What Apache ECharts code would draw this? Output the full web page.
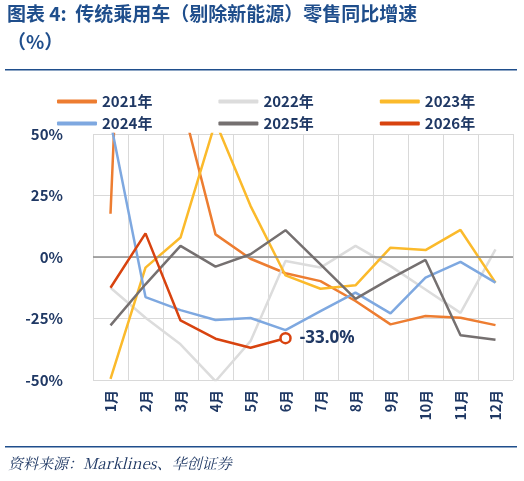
<!DOCTYPE html>
<html>
<head>
<meta charset="UTF-8" />
<title>传统乘用车零售同比增速</title>
<style>
  body { margin: 0; background: #fff; }
  #chart { width: 524px; height: 481px; }
</style>
<script src="https://cdn.jsdelivr.net/npm/echarts@6/dist/echarts.min.js"></script>
</head>
<body>
<div id="chart"></div>
<script>
  var months = ["1月", "2月", "3月", "4月", "5月", "6月", "7月", "8月", "9月", "10月", "11月", "12月"];
  var years = ["2021年", "2022年", "2023年", "2024年", "2025年", "2026年"];
  var colors = ["#ED7D31", "#DCDCDC", "#FBBA2B", "#7EA8E0", "#757070", "#D8430F"];
  var yTicks = [-50, -25, 0, 25, 50];

  // 读图估算
  var y2021 = [17.6, 350, 65, 9.2, -0.7, -6.6, -9.8, -17.9, -27.4, -24, -24.7, -27.7];
  var y2022 = [-12.5, -24.7, -35.5, -50.5, -34.2, -1.6, -4.3, 4.5, -3.7, -13.2, -22.7, 3.1];
  var y2023 = [-49.5, -4.3, 7.9, 55, 20.8, -7.5, -12.9, -11.5, 3.8, 2.8, 11, -10.4];
  var y2024 = [55, -16.3, -21.6, -25.6, -24.8, -29.7, -22, -14.5, -22.9, -8.4, -2, -10.4];
  var y2025 = [-27.8, -11.1, 4.5, -3.9, 1.1, 10.9, -3, -17, -8.8, -1.2, -31.8, -33.6];
  var y2026 = [-12.5, 9.6, -25.8, -33.2, -36.9, -33.0];

  var allData = [y2021, y2022, y2023, y2024, y2025, y2026];
  var navy = "#1F3864";

  var chart = echarts.init(document.getElementById("chart"));

  var series = allData.map(function (d, i) {
    var s = {
      name: years[i],
      type: "line",
      data: d,
      symbol: "none",
      clip: true,
      lineStyle: { width: 2.5, color: colors[i] },
      itemStyle: { color: colors[i] },
      z: i + 2
    };
    if (i === 5) {
      s.data = d.map(function (v, k) {
        if (k === d.length - 1) {
          return {
            value: v,
            symbol: "circle",
            symbolSize: 10,
            itemStyle: { color: "#fff", borderColor: colors[i], borderWidth: 2.5 },
            label: {
              show: true,
              position: "right",
              distance: 8,
              formatter: v.toFixed(1) + "%",
              color: navy,
              fontSize: 17,
              fontWeight: "bold",
              fontFamily: "Noto Sans"
            }
          };
        }
        return v;
      });
    }
    return s;
  });

  // 0% 轴线
  series[0].markLine = {
    silent: true,
    symbol: "none",
    label: { show: false },
    lineStyle: { color: "#8C8C8C", type: "solid", width: 1.5 },
    data: [{ yAxis: 0 }]
  };

  var legendRow = function (names, top) {
    return {
      data: names,
      top: top,
      left: 52,
      itemWidth: 40,
      itemHeight: 4,
      itemGap: 66,
      icon: "roundRect",
      textStyle: { color: navy, fontSize: 15, fontWeight: "bold", fontFamily: "Noto Sans CJK SC", width: 68 }
    };
  };

  chart.setOption({
    animation: false,
    textStyle: { fontFamily: "Noto Sans CJK SC" },
    graphic: [
      { type: "text", left: 7, top: 4, style: { text: "图表 4:  传统乘用车（剔除新能源）零售同比增速", fill: "#1F4E8C", font: "bold 19px 'Noto Sans CJK SC'" } },
      { type: "text", left: 7, top: 32, style: { text: "（%）", fill: "#1F4E8C", font: "bold 19px 'Noto Sans CJK SC'" } },
      { type: "rect", shape: { x: 5, y: 69, width: 512, height: 1.5 }, style: { fill: "#1F4E8C" } },
      { type: "rect", shape: { x: 5, y: 446, width: 512, height: 1.5 }, style: { fill: "#1F4E8C" } },
      { type: "text", left: 8, top: 456, style: { text: "资料来源：Marklines、华创证券", fill: "#1F3864", font: "italic 15px 'Noto Serif CJK SC', serif" } }
    ],
    legend: [
      legendRow(years.slice(0, 3), 89),
      legendRow(years.slice(3, 6), 111)
    ],
    grid: { left: 93, right: 11, top: 134, bottom: 101 },
    xAxis: {
      type: "category",
      data: months,
      boundaryGap: true,
      axisLine: { show: false },
      axisTick: { show: false },
      splitLine: { show: true, interval: 0, lineStyle: { color: "#D9D9D9" } },
      axisLabel: { rotate: 90, color: navy, fontSize: 14, fontWeight: "bold", margin: 10, interval: 0 }
    },
    yAxis: {
      type: "value",
      min: yTicks[0],
      max: yTicks[yTicks.length - 1],
      interval: 25,
      axisLine: { show: false },
      axisTick: { show: false },
      splitLine: { lineStyle: { color: "#D9D9D9" } },
      axisLabel: { formatter: "{value}%", color: navy, fontSize: 15, fontWeight: "bold", margin: 30 }
    },
    series: series
  });
</script>
</body>
</html>
